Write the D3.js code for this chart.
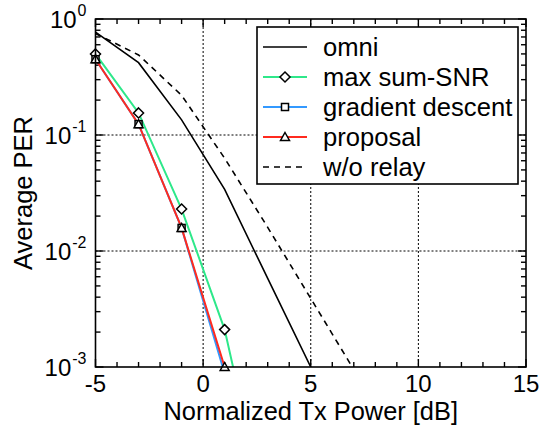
<!DOCTYPE html>
<html>
<head>
<meta charset="utf-8">
<script src="https://cdn.jsdelivr.net/npm/d3@7"></script>
<style>
  body { margin: 0; background: #fff; }
  text { font-family: "Liberation Sans", Arial, sans-serif; fill: #000; }
</style>
</head>
<body>
<script>
var w = 544;
var h = 429;
var margin = {left: 95.5, right: 18, top: 19, bottom: 62};

// data (PER vs normalized Tx power in dB)
var xs = [-5, -3, -1, 1, 3, 5, 7];
var omni = [0.77, 0.42, 0.135, 0.034, 0.0058, 0.001];
var maxSumSNR = [0.50, 0.155, 0.023, 0.0021, 0.000047];
var gradDescent = [0.45, 0.124, 0.0158, 0.00088];
var proposal = [0.45, 0.124, 0.0158, 0.001];
var woRelay = [0.75, 0.49, 0.22, 0.063, 0.016, 0.0039, 0.00095];

var xTicks = [-5, 0, 5, 10, 15];
var yTicks = [1e-3, 1e-2, 1e-1, 1];
var yTickExp = ["-3", "-2", "-1", "0"];
var legendNames = ["omni", "max sum-SNR", "gradient descent", "proposal", "w/o relay"];

var series = [
  {name: legendNames[0], vals: omni, color: "#000", width: 1.6, dash: null, marker: null},
  {name: legendNames[1], vals: maxSumSNR, color: "#2ee88a", width: 2, dash: null, marker: "diamond"},
  {name: legendNames[2], vals: gradDescent, color: "#3399ff", width: 2, dash: null, marker: "square"},
  {name: legendNames[3], vals: proposal, color: "#ff2a1f", width: 2, dash: null, marker: "triangle"},
  {name: legendNames[4], vals: woRelay, color: "#000", width: 1.6, dash: "6,5", marker: null}
];

var svg = d3.select("body")
            .append("svg")
            .attr("width", w)
            .attr("height", h);

var x = d3.scaleLinear().domain([-5, 15]).range([margin.left, w - margin.right]);
var y = d3.scaleLog().domain([1e-3, 1]).range([h - margin.bottom, margin.top]);

var x0 = x.range()[0], x1 = x.range()[1];
var y0 = y.range()[0], y1 = y.range()[1];

svg.append("defs").append("clipPath").attr("id", "clip")
   .append("rect")
   .attr("x", x0).attr("y", y1)
   .attr("width", x1 - x0).attr("height", y0 - y1);

// grid
svg.selectAll(".gx")
   .data(xTicks.slice(1, -1))
   .enter()
   .append("line")
   .attr("x1", function(d){ return x(d); })
   .attr("x2", function(d){ return x(d); })
   .attr("y1", y1).attr("y2", y0)
   .attr("stroke", "#000").attr("stroke-width", 1)
   .attr("stroke-dasharray", "2,2");
svg.selectAll(".gy")
   .data(yTicks.slice(1, -1))
   .enter()
   .append("line")
   .attr("y1", function(d){ return y(d); })
   .attr("y2", function(d){ return y(d); })
   .attr("x1", x0).attr("x2", x1)
   .attr("stroke", "#000").attr("stroke-width", 1)
   .attr("stroke-dasharray", "2,2");

// minor + major ticks (inward, all four sides)
var xMinor = d3.range(-5, 16, 1);
var yMinor = [];
[1e-3, 1e-2, 1e-1].forEach(function(dec){
  for (var k = 1; k <= 9; k++) yMinor.push(dec * k);
});
yMinor.push(1);

var ticks = svg.append("g").attr("stroke", "#000").attr("stroke-width", 1.4);
xMinor.forEach(function(d){
  var len = (d % 5 === 0) ? 8 : 5;
  ticks.append("line").attr("x1", x(d)).attr("x2", x(d)).attr("y1", y0).attr("y2", y0 - len);
  ticks.append("line").attr("x1", x(d)).attr("x2", x(d)).attr("y1", y1).attr("y2", y1 + len);
});
yMinor.forEach(function(d){
  var major = Math.abs(Math.log10(d) - Math.round(Math.log10(d))) < 1e-9;
  var len = major ? 8 : 5;
  ticks.append("line").attr("y1", y(d)).attr("y2", y(d)).attr("x1", x0).attr("x2", x0 + len);
  ticks.append("line").attr("y1", y(d)).attr("y2", y(d)).attr("x1", x1).attr("x2", x1 - len);
});

// lines
var line = d3.line()
  .x(function(d){ return x(d[0]); })
  .y(function(d){ return y(d[1]); });

var plot = svg.append("g").attr("clip-path", "url(#clip)");
series.forEach(function(s){
  var pts = s.vals.map(function(v, i){ return [xs[i], v]; });
  plot.append("path")
      .attr("d", line(pts))
      .attr("fill", "none")
      .attr("stroke", s.color)
      .attr("stroke-width", s.width)
      .attr("stroke-dasharray", s.dash);
});

// markers
function marker(g, type, cx, cy) {
  if (type === "diamond") {
    g.append("path")
     .attr("d", "M" + cx + "," + (cy - 5) + "L" + (cx + 5) + "," + cy + "L" + cx + "," + (cy + 5) + "L" + (cx - 5) + "," + cy + "Z");
  } else if (type === "square") {
    g.append("rect").attr("x", cx - 3.5).attr("y", cy - 3.5).attr("width", 7).attr("height", 7);
  } else if (type === "triangle") {
    g.append("path")
     .attr("d", "M" + cx + "," + (cy - 4.5) + "L" + (cx + 4.5) + "," + (cy + 3.5) + "L" + (cx - 4.5) + "," + (cy + 3.5) + "Z");
  }
}
var mk = svg.append("g").attr("fill", "#fff").attr("stroke", "#000").attr("stroke-width", 1.5);
series.forEach(function(s){
  if (!s.marker) return;
  s.vals.forEach(function(v, i){
    if (v < 1e-3 - 1e-12) return;
    marker(mk, s.marker, x(xs[i]), y(v));
  });
});

// frame
svg.append("rect")
   .attr("x", x0).attr("y", y1)
   .attr("width", x1 - x0).attr("height", y0 - y1)
   .attr("fill", "none").attr("stroke", "#000").attr("stroke-width", 1.6);

// tick labels
svg.selectAll(".xl")
   .data(xTicks)
   .enter()
   .append("text")
   .text(function(d){ return d; })
   .attr("x", function(d){ return x(d); })
   .attr("y", y0 + 25)
   .attr("font-size", "24px")
   .attr("text-anchor", "middle");

yTicks.forEach(function(d, i){
  var t = svg.append("text")
     .attr("x", x0 - 9)
     .attr("y", y(d) + 9)
     .attr("font-size", "24px")
     .attr("text-anchor", "end");
  t.append("tspan").text("10");
  t.append("tspan")
   .attr("font-size", "16px")
   .attr("dx", 1)
   .attr("dy", -12)
   .text(yTickExp[i]);
});

// axis titles
svg.append("text")
   .attr("x", (x0 + x1) / 2)
   .attr("y", y0 + 53)
   .attr("font-size", "25.4px")
   .attr("text-anchor", "middle")
   .text("Normalized Tx Power [dB]");
svg.append("text")
   .attr("transform", "translate(32," + ((y0 + y1) / 2) + ") rotate(-90)")
   .attr("font-size", "25.5px")
   .attr("text-anchor", "middle")
   .text("Average PER");

// legend
var lg = svg.append("g");
lg.append("rect")
  .attr("x", 257).attr("y", 27)
  .attr("width", 261).attr("height", 157)
  .attr("fill", "#fff").attr("stroke", "#000").attr("stroke-width", 1.6);
series.forEach(function(s, i){
  var ly = 47 + i * 30;
  lg.append("line")
    .attr("x1", 263).attr("x2", 307)
    .attr("y1", ly).attr("y2", ly)
    .attr("stroke", s.color).attr("stroke-width", s.width)
    .attr("stroke-dasharray", s.dash);
  if (s.marker) {
    var g = lg.append("g").attr("fill", "#fff").attr("stroke", "#000").attr("stroke-width", 1.5);
    marker(g, s.marker, 285, ly);
  }
  lg.append("text")
    .attr("x", 323).attr("y", ly + 9)
    .attr("font-size", "25.6px")
    .text(s.name);
});
</script>
</body>
</html>
